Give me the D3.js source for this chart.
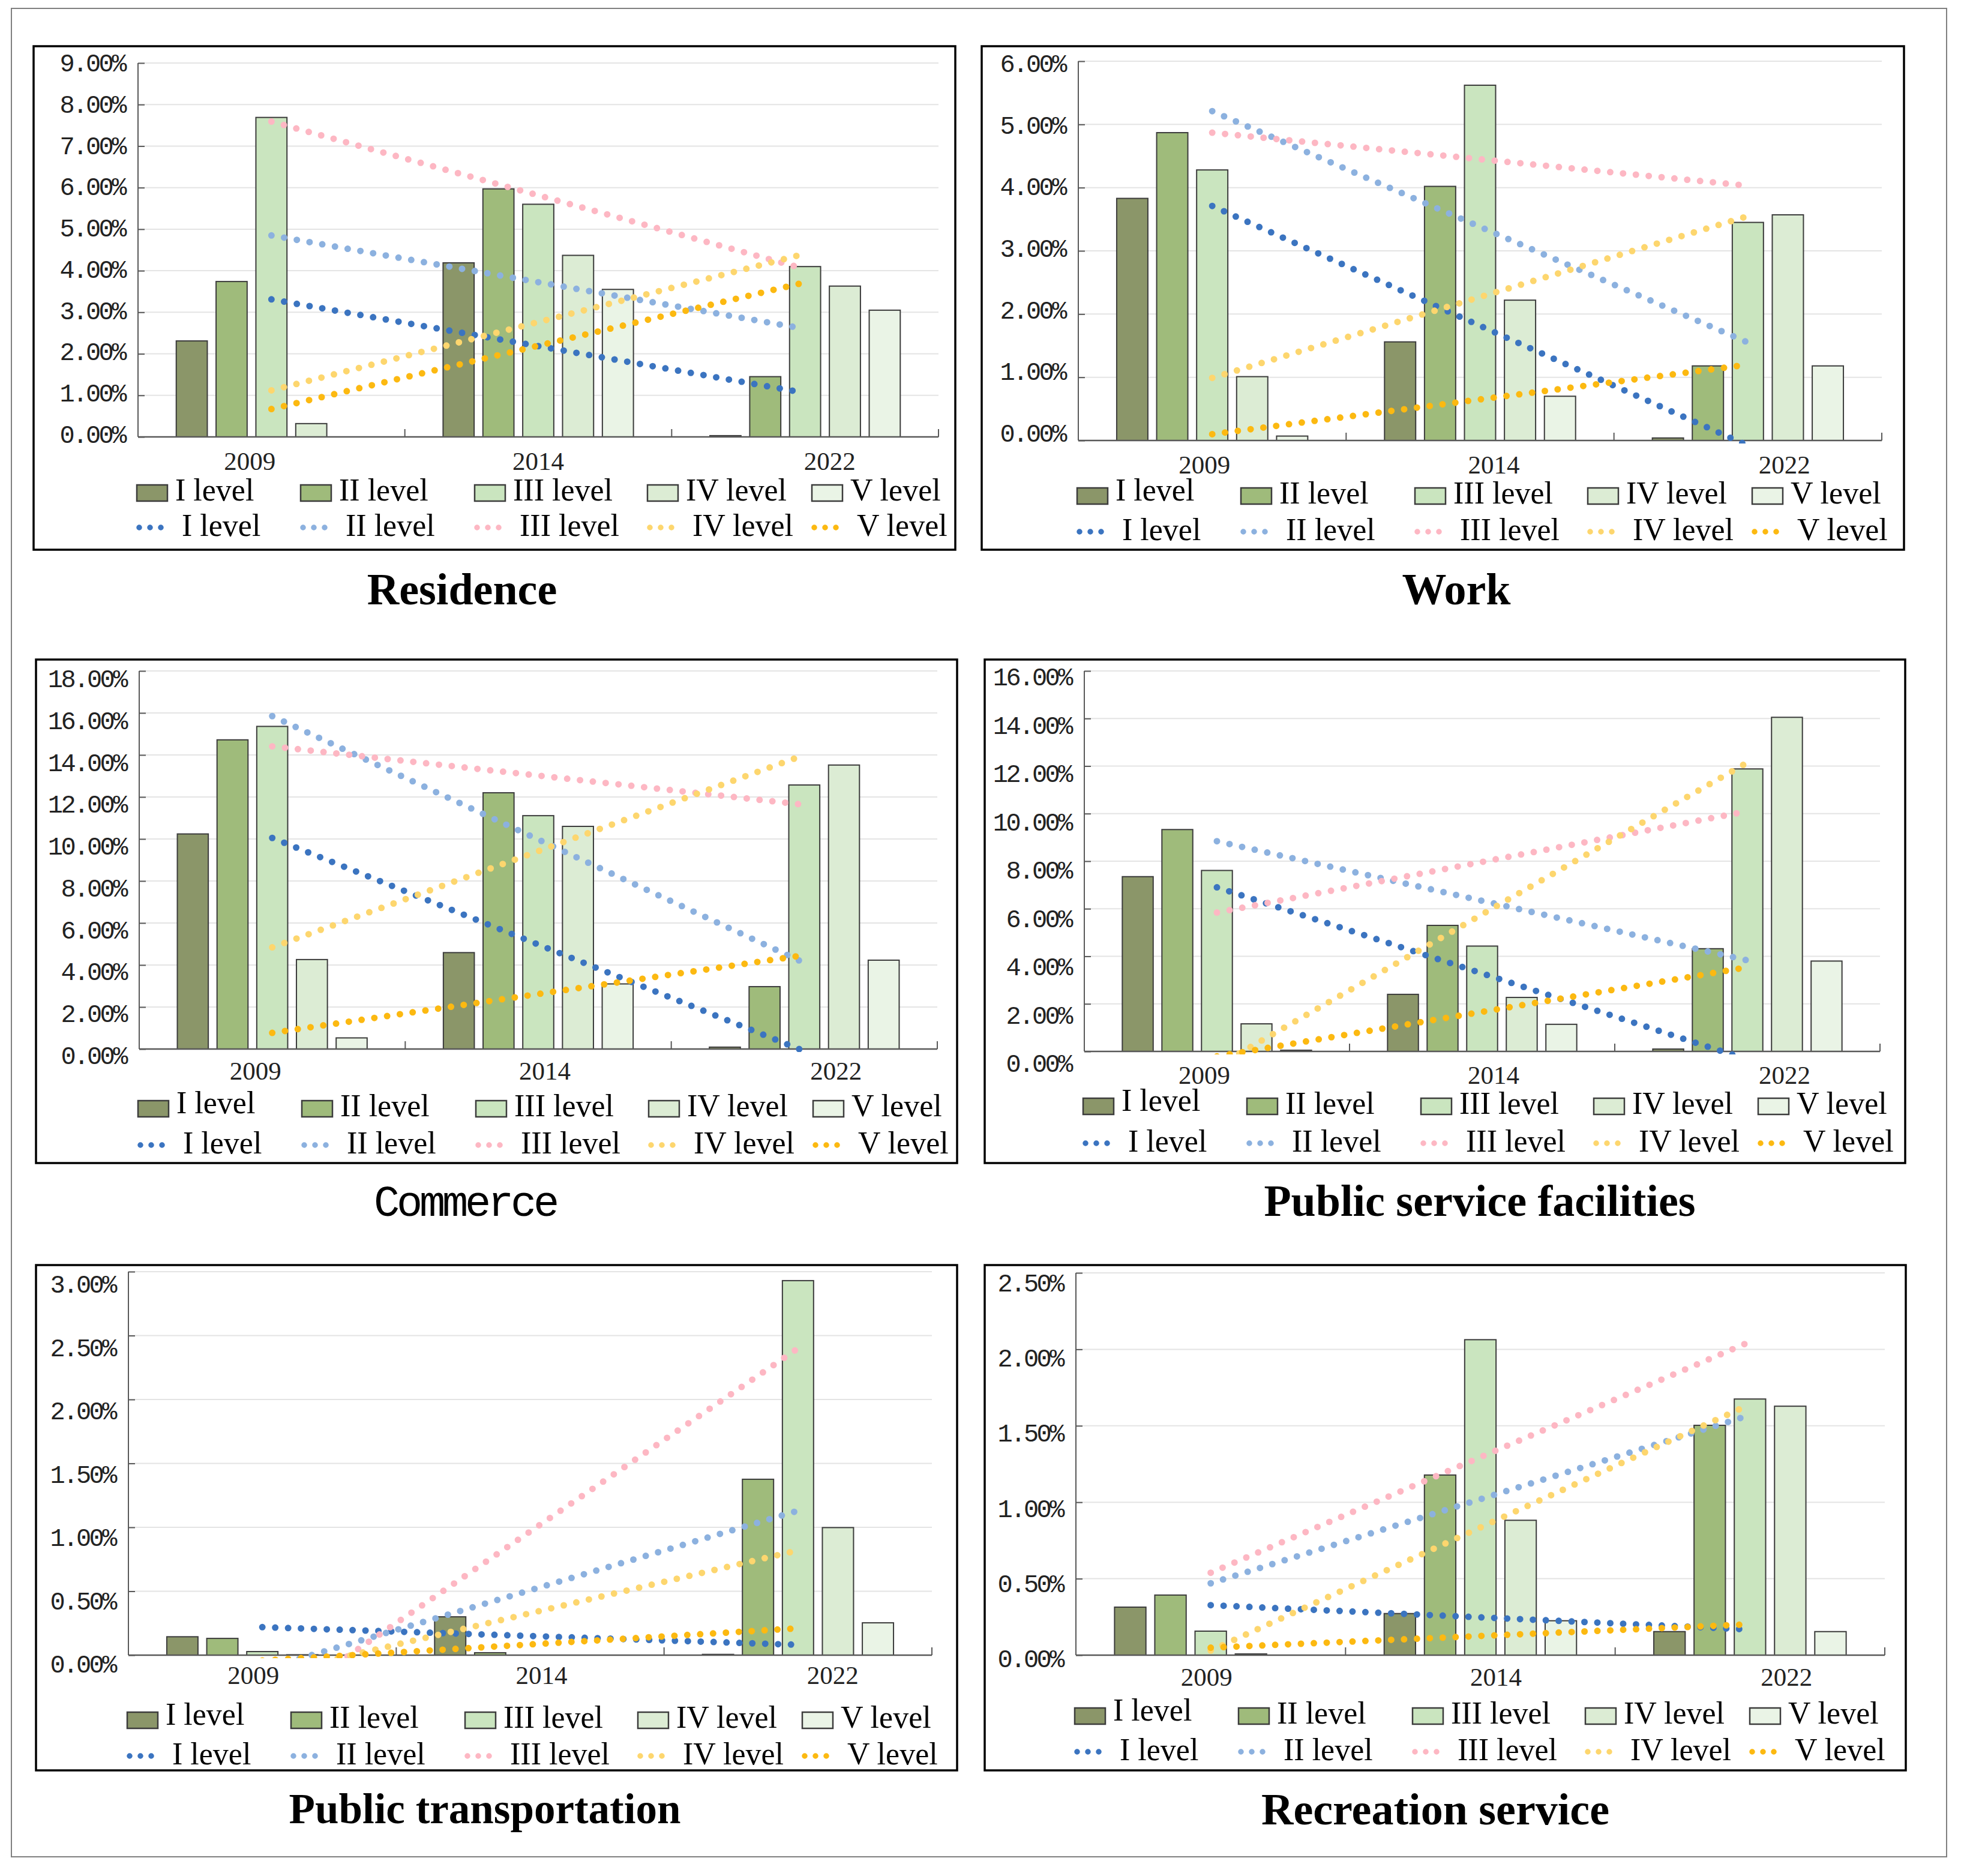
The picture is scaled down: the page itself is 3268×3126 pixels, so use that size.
<!DOCTYPE html>
<html>
<head>
<meta charset="utf-8">
<script src="https://cdn.jsdelivr.net/npm/d3@7"></script>
<style>
  body { margin: 0; background: #fff; }
</style>
</head>
<body>
<svg id="chart" width="3268" height="3126"></svg>
<script>
const years = ["2009", "2014", "2022"];
const levels = ["I level", "II level", "III level", "IV level", "V level"];
const titles = ["Residence", "Work", "Commerce", "Public service facilities", "Public transportation", "Recreation service"];

// bar values in %, one row per year, columns I..V level
const residence  = [[2.31, 3.74, 7.69, 0.32, 0.00], [4.19, 5.97, 5.60, 4.37, 3.55], [0.03, 1.45, 4.10, 3.63, 3.05]];
const work       = [[3.83, 4.87, 4.28, 1.01, 0.07], [1.56, 4.02, 5.62, 2.22, 0.70], [0.04, 1.18, 3.45, 3.57, 1.18]];
const commerce   = [[10.24, 14.72, 15.36, 4.26, 0.53], [4.59, 12.20, 11.11, 10.60, 3.10], [0.09, 2.97, 12.57, 13.52, 4.23]];
const publicServ = [[7.35, 9.33, 7.61, 1.16, 0.05], [2.40, 5.30, 4.43, 2.27, 1.14], [0.10, 4.32, 11.88, 14.05, 3.80]];
const transport  = [[0.144, 0.131, 0.028, 0.003, 0.00], [0.30, 0.019, 0.00, 0.00, 0.00], [0.006, 1.376, 2.93, 0.998, 0.253]];
const recreation = [[0.314, 0.393, 0.157, 0.008, 0.00], [0.272, 1.178, 2.063, 0.882, 0.225], [0.154, 1.503, 1.675, 1.628, 0.154]];

// trend lines: value in % at 2009 and at 2022, one pair per level
const residenceTrend  = [[3.31, 1.06], [4.85, 2.60], [7.59, 4.04], [1.12, 4.41], [0.67, 3.72]];
const workTrend       = [[3.71, -0.08], [5.21, 1.55], [4.87, 4.03], [0.99, 3.55], [0.10, 1.20]];
const commerceTrend   = [[10.05, -0.10], [15.85, 4.10], [14.41, 11.63], [4.84, 14.00], [0.77, 4.47]];
const publicServTrend = [[6.90, -0.34], [8.84, 3.83], [5.84, 10.10], [-0.62, 12.15], [-0.21, 3.54]];
const transportTrend  = [[0.219, 0.081], [-0.114, 1.13], [-0.465, 2.40], [-0.164, 0.82], [-0.042, 0.21]];
const recreationTrend = [[0.327, 0.168], [0.47, 1.57], [0.539, 2.05], [0.03, 1.64], [0.049, 0.202]];

const yMax  = [9, 6, 18, 16, 3, 2.5];
const yStep = [1, 1, 2, 2, 0.5, 0.5];

const barSets = [residence, work, commerce, publicServ, transport, recreation];
const trendSets = [residenceTrend, workTrend, commerceTrend, publicServTrend, transportTrend, recreationTrend];

const barColors  = ["#8b9669", "#9fbb7b", "#cae5bf", "#dcecd4", "#eaf4e6"];
const lineColors = ["#3b74c0", "#8cb1df", "#fdb7c3", "#fdd66e", "#fcb911"];

// panel geometry: frame box, plot area [x0, x1, yTop, yZero], year label shifts,
// tick label shift [top, bottom], legend rows, first legend label raise, title position and size
const layout = [
  {box: [56, 77, 1592, 916],     plot: [230, 1564, 105, 728],    yearDx: [-36, 0, 41],  yearY: 783,  lab: [0, -4],  leg: [821, 879],   raise: 0, title: [770, 1007, 74]},
  {box: [1636, 77, 3173, 916],   plot: [1797, 3136, 102, 734],   yearDx: [-13, 23, 61], yearY: 789,  lab: [4, -12], leg: [826, 886],   raise: 5, title: [2427, 1007, 74]},
  {box: [60, 1099, 1595, 1938],  plot: [232, 1562, 1118, 1748],  yearDx: [-28, 11, 53], yearY: 1799, lab: [13, 11], leg: [1847, 1908], raise: 5, title: [775, 2026, 72]},
  {box: [1641, 1099, 3175, 1938],plot: [1807, 3133, 1118, 1752], yearDx: [-21, 19, 62], yearY: 1806, lab: [10, 20], leg: [1843, 1905], raise: 5, title: [2466, 2026, 74]},
  {box: [60, 2108, 1595, 2950],  plot: [214, 1553, 2119, 2758],  yearDx: [-15, 19, 58], yearY: 2806, lab: [21, 15], leg: [2866, 2926], raise: 5, title: [808, 3038, 71]},
  {box: [1641, 2108, 3176, 2950],plot: [1793, 3141, 2121, 2758], yearDx: [-7, 26, 61],  yearY: 2809, lab: [17, 6],  leg: [2859, 2919], raise: 5, title: [2392, 3040, 74]}
];
const legendCols = [-2, 271, 561, 849, 1123];

const serif = "'Liberation Serif', 'Times New Roman', serif";
const mono = "'Liberation Mono', 'Courier New', monospace";

let svg = d3.select("#chart");

svg.append("rect")
    .attr("x", 19).attr("y", 14)
    .attr("width", 3244 - 19).attr("height", 3094 - 14)
    .attr("fill", "#fff")
    .attr("stroke", "#7f7f7f")
    .attr("stroke-width", 2);

layout.forEach(function(L, p) {
  let [x0, x1, yTop, yZero] = L.plot;
  let g = svg.append("g");

  g.append("rect")
      .attr("x", L.box[0]).attr("y", L.box[1])
      .attr("width", L.box[2] - L.box[0]).attr("height", L.box[3] - L.box[1])
      .attr("fill", "#fff")
      .attr("stroke", "#000")
      .attr("stroke-width", 3.5);

  let xYear = d3.scaleBand().domain(years).range([x0, x1]).paddingInner(0).paddingOuter(0);
  let xLevel = d3.scaleBand().domain(levels).range([0, xYear.bandwidth()]).paddingInner(0.22).paddingOuter(0.96);
  let y = d3.scaleLinear().domain([0, yMax[p]]).range([yZero, yTop]);
  let ticks = d3.range(0, yMax[p] + yStep[p] / 2, yStep[p]);

  // gridlines
  g.append("g")
    .selectAll("line")
    .data(ticks.slice(1))
    .enter().append("line")
      .attr("x1", x0).attr("x2", x1)
      .attr("y1", d => y(d)).attr("y2", d => y(d))
      .attr("stroke", "#e4e4e4")
      .attr("stroke-width", 2);

  // bars
  g.append("g")
    .selectAll("g")
    .data(barSets[p])
    .enter().append("g")
      .attr("transform", (d, i) => "translate(" + xYear(years[i]) + ",0)")
    .selectAll("rect")
    .data(d => d.map((v, j) => ({level: levels[j], value: v, j: j})))
    .enter().append("rect")
      .attr("x", d => xLevel(d.level))
      .attr("y", d => y(d.value))
      .attr("width", xLevel.bandwidth())
      .attr("height", d => yZero - y(d.value))
      .attr("fill", d => barColors[d.j])
      .attr("stroke", d => d.value > 0 ? "#3c3c3c" : "none")
      .attr("stroke-width", 2);

  // y axis
  let yAxis = g.append("g")
      .attr("transform", "translate(" + x0 + ",0)")
      .call(d3.axisRight(y).tickValues(ticks).tickSize(11).tickFormat(""));
  yAxis.select(".domain").attr("stroke", "#595959").attr("stroke-width", 2).attr("d", "M0," + yTop + "V" + yZero);
  yAxis.selectAll(".tick line").attr("stroke", "#595959").attr("stroke-width", 2);

  let n = ticks.length - 1;
  g.append("g")
    .selectAll("text")
    .data(ticks)
    .enter().append("text")
      .attr("x", x0 - 22)
      .attr("y", (d, i) => y(d) + 14 + L.lab[1] + (L.lab[0] - L.lab[1]) * i / n)
      .attr("text-anchor", "end")
      .attr("font-family", mono)
      .attr("font-size", 42)
      .attr("letter-spacing", -3.5)
      .attr("fill", "#222")
      .text(d => d3.format(".2f")(d) + "%");

  // x axis with inward ticks on band edges
  g.append("line")
      .attr("x1", x0).attr("x2", x1)
      .attr("y1", yZero).attr("y2", yZero)
      .attr("stroke", "#595959")
      .attr("stroke-width", 2.5);
  g.append("g")
    .selectAll("line")
    .data(years)
    .enter().append("line")
      .attr("x1", d => xYear(d) + xYear.bandwidth()).attr("x2", d => xYear(d) + xYear.bandwidth())
      .attr("y1", yZero).attr("y2", yZero - 13)
      .attr("stroke", "#595959")
      .attr("stroke-width", 2);

  g.append("g")
    .selectAll("text")
    .data(years)
    .enter().append("text")
      .attr("x", (d, i) => xYear(d) + xYear.bandwidth() / 2 + L.yearDx[i])
      .attr("y", L.yearY)
      .attr("text-anchor", "middle")
      .attr("font-family", serif)
      .attr("font-size", 43)
      .attr("fill", "#222")
      .text(d => d);

  // trend lines
  let clipId = "clip" + p;
  g.append("clipPath").attr("id", clipId)
    .append("rect")
      .attr("x", x0).attr("y", yTop - 40)
      .attr("width", x1 - x0).attr("height", yZero - yTop + 45);

  let cFirst = xYear(years[0]) + xYear.bandwidth() / 2;
  let cLast = xYear(years[years.length - 1]) + xYear.bandwidth() / 2;
  let line = d3.line().x(d => d[0]).y(d => y(d[1]));

  g.append("g")
      .attr("clip-path", "url(#" + clipId + ")")
    .selectAll("path")
    .data(trendSets[p])
    .enter().append("path")
      .attr("d", d => line([[cFirst, d[0]], [cLast, d[1]]]))
      .attr("fill", "none")
      .attr("stroke", (d, i) => lineColors[i])
      .attr("stroke-width", 11)
      .attr("stroke-linecap", "round")
      .attr("stroke-dasharray", "0 21.5");

  // legend
  let legend = g.append("g")
    .selectAll("g")
    .data(levels)
    .enter().append("g")
      .attr("transform", (d, i) => "translate(" + (x0 + legendCols[i]) + ",0)");

  legend.append("rect")
      .attr("x", 0)
      .attr("y", L.leg[0] - 13)
      .attr("width", 51)
      .attr("height", 27)
      .attr("fill", (d, i) => barColors[i])
      .attr("stroke", "#3c3c3c")
      .attr("stroke-width", 2.5);

  legend.append("text")
      .attr("x", 64)
      .attr("y", (d, i) => L.leg[0] + 13 - (i === 0 ? L.raise : 0))
      .attr("font-family", serif)
      .attr("font-size", 52)
      .attr("fill", "#000")
      .text(d => d);

  legend.append("line")
      .attr("x1", 4).attr("x2", 58)
      .attr("y1", L.leg[1]).attr("y2", L.leg[1])
      .attr("stroke", (d, i) => lineColors[i])
      .attr("stroke-width", 9.5)
      .attr("stroke-linecap", "round")
      .attr("stroke-dasharray", "0 18");

  legend.append("text")
      .attr("x", 75)
      .attr("y", L.leg[1] + 14)
      .attr("font-family", serif)
      .attr("font-size", 52)
      .attr("fill", "#000")
      .text(d => d);

  // panel title
  let isMono = titles[p] === "Commerce";
  svg.append("text")
      .attr("x", L.title[0])
      .attr("y", L.title[1])
      .attr("text-anchor", "middle")
      .attr("font-family", isMono ? mono : serif)
      .attr("font-weight", isMono ? "normal" : "bold")
      .attr("font-size", L.title[2])
      .attr("letter-spacing", isMono ? -5.2 : 0)
      .attr("fill", "#000")
      .text(titles[p]);
});
</script>
</body>
</html>
